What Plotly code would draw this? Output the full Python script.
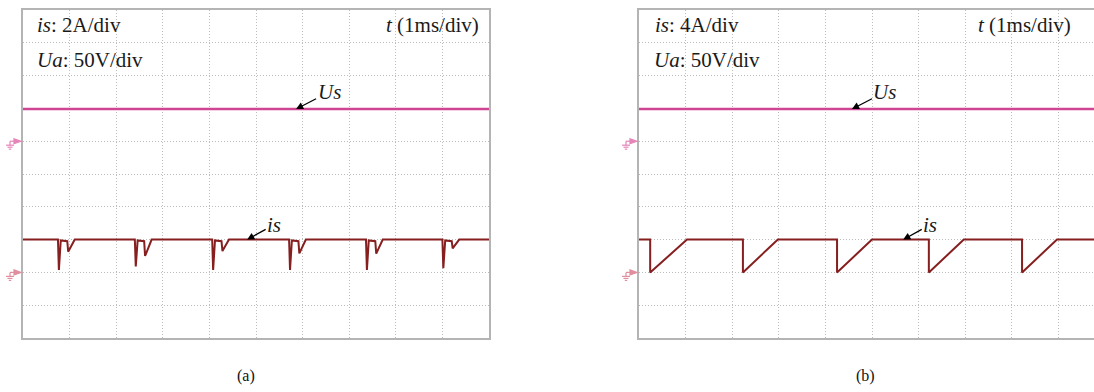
import plotly.graph_objects as go

# ---------------- data ----------------
# panel (a): is 2A/div, Ua 50V/div, t 1ms/div
t_a = [0.00,
       0.75, 0.77, 0.81, 0.95, 0.97, 1.11,
       2.40, 2.42, 2.46, 2.60, 2.62, 2.76,
       4.06, 4.08, 4.12, 4.26, 4.28, 4.42,
       5.71, 5.73, 5.77, 5.91, 5.93, 6.07,
       7.36, 7.38, 7.42, 7.56, 7.58, 7.72,
       9.00, 9.02, 9.06, 9.20, 9.22, 9.36,
       10.00]
i_a = [2.0,
       2.0, 0.15, 1.95, 1.9, 1.26, 2.0,
       2.0, 0.36, 1.95, 1.9, 1.00, 2.0,
       2.0, 0.15, 1.95, 1.9, 1.30, 2.0,
       2.0, 0.15, 1.95, 1.9, 1.16, 2.0,
       2.0, 0.15, 1.95, 1.9, 1.14, 2.0,
       2.0, 0.25, 1.95, 1.9, 1.47, 2.0,
       2.0]
u_t_a = [0.0, 10.0]
u_a = [49.0, 49.0]

# panel (b): is 4A/div, Ua 50V/div, t 1ms/div
t_b = [0.00, 0.24, 0.24, 1.03,
       2.23, 2.23, 2.98,
       4.25, 4.25, 5.00,
       6.22, 6.22, 6.97,
       8.22, 8.22, 8.97,
       10.00]
i_b = [4.0, 4.0, 0.0, 4.0,
       4.0, 0.0, 4.0,
       4.0, 0.0, 4.0,
       4.0, 0.0, 4.0,
       4.0, 0.0, 4.0,
       4.0]
u_t_b = [0.0, 10.0]
u_b = [49.0, 49.0]

labels_a = ["<i>is</i>: 2A/div", "<i>Ua</i>: 50V/div", "<i>t</i> (1ms/div)"]
labels_b = ["<i>is</i>: 4A/div", "<i>Ua</i>: 50V/div", "<i>t</i> (1ms/div)"]
captions = ["(a)", "(b)"]

# axis ranges (value per division x 10 divisions, ground 2 div / 6 div from bottom)
i_range_a = [-4, 16]
i_range_b = [-8, 32]
u_range = [-300, 200]

# ---------------- style ----------------
U_COLOR = "#cf4594"
I_COLOR = "#861f1f"
GRID = "#bdbdbd"
FRAME = "#b4b4b4"
FONT = "Liberation Serif"
W, H = 1094, 392

ytop, ybot = 10, 338
xa0, xa1 = 23, 489
xb0 = 639
div_px = (xa1 - xa0) / 10.0
xb1 = W
xb_range = (xb1 - xb0) / div_px

fig = go.Figure()
fig.add_trace(go.Scatter(x=u_t_a, y=u_a, mode="lines", line=dict(color=U_COLOR, width=2.5),
                         xaxis="x", yaxis="y2", hoverinfo="skip"))
fig.add_trace(go.Scatter(x=t_a, y=i_a, mode="lines", line=dict(color=I_COLOR, width=2),
                         xaxis="x", yaxis="y", hoverinfo="skip"))
fig.add_trace(go.Scatter(x=u_t_b, y=u_b, mode="lines", line=dict(color=U_COLOR, width=2.5),
                         xaxis="x2", yaxis="y4", hoverinfo="skip"))
fig.add_trace(go.Scatter(x=t_b, y=i_b, mode="lines", line=dict(color=I_COLOR, width=2),
                         xaxis="x2", yaxis="y3", hoverinfo="skip"))

ydom = [1 - ybot / H, 1 - ytop / H]
gridax = dict(showgrid=True, gridcolor=GRID, griddash="1px,2px", gridwidth=1,
              zeroline=False, showticklabels=False, ticks="", showline=True,
              linecolor=FRAME, linewidth=1.5)

fig.update_layout(
    width=W, height=H, margin=dict(l=0, r=0, t=0, b=0),
    paper_bgcolor="white", plot_bgcolor="white", showlegend=False,
    xaxis=dict(domain=[xa0 / W, xa1 / W], range=[0, 10], dtick=1, mirror=True, **gridax),
    yaxis=dict(domain=ydom, range=i_range_a, dtick=2, mirror=True, anchor="x", **gridax),
    yaxis2=dict(domain=ydom, range=u_range, overlaying="y", anchor="x",
                showgrid=False, zeroline=False, showticklabels=False, visible=False),
    xaxis2=dict(domain=[xb0 / W, 1.0], range=[0, xb_range], dtick=1, mirror=True,
                anchor="y3", **gridax),
    yaxis3=dict(domain=ydom, range=i_range_b, dtick=4, mirror=False, anchor="x2", **gridax),
    yaxis4=dict(domain=ydom, range=u_range, overlaying="y3", anchor="x2",
                showgrid=False, zeroline=False, showticklabels=False, visible=False),
)

tfont = dict(family=FONT, size=21, color="#1a1a1a")
ann = []
for lab, xx, yy, anc, xr, yr in [
    (labels_a[0], 12 / 466, (ybot - 25) / 328, "left", "x domain", "y domain"),
    (labels_a[1], 12 / 466, (ybot - 60) / 328, "left", "x domain", "y domain"),
    (labels_a[2], (481 - xa0) / 466, (ybot - 25) / 328, "right", "x domain", "y domain"),
    (labels_b[0], 14 / (xb1 - xb0), (ybot - 25) / 328, "left", "x2 domain", "y3 domain"),
    (labels_b[1], 13 / (xb1 - xb0), (ybot - 60) / 328, "left", "x2 domain", "y3 domain"),
    (labels_b[2], (976 - xb0) / (xb1 - xb0), (ybot - 25) / 328, "left", "x2 domain", "y3 domain"),
]:
    ann.append(dict(text=lab, x=xx, y=yy, xref=xr, yref=yr, xanchor=anc, yanchor="middle",
                    showarrow=False, font=tfont))

arrow = dict(showarrow=True, arrowhead=2, arrowsize=1.1, arrowwidth=1.3, arrowcolor="black",
             font=dict(family=FONT, size=21, color="#1a1a1a"))
ann.append(dict(text="<i>Us</i>", x=5.86, y=u_a[0], xref="x", yref="y2", ax=33, ay=-17, **arrow))
ann.append(dict(text="<i>is</i>", x=4.81, y=i_a[0], xref="x", yref="y", ax=27, ay=-15, **arrow))
ann.append(dict(text="<i>Us</i>", x=4.57, y=u_b[0], xref="x2", yref="y4", ax=33, ay=-17, **arrow))
ann.append(dict(text="<i>is</i>", x=5.67, y=i_b[0], xref="x2", yref="y3", ax=27, ay=-15, **arrow))

for cap, cx in zip(captions, [246 / W, 865 / W]):
    ann.append(dict(text=cap, x=cx, y=1 - 376 / H, xref="paper", yref="paper",
                    xanchor="center", yanchor="middle",
                    showarrow=False, font=dict(family=FONT, size=16, color="#111")))
fig.update_layout(annotations=ann)


# ground markers (decorations at the 0 level of each channel, left of the frame)
def paper_y(v, rng):
    return ydom[0] + (v - rng[0]) / (rng[1] - rng[0]) * (ydom[1] - ydom[0])


def ground(xpaper, ypaper, col):
    base = dict(xref="paper", yref="paper", xsizemode="pixel", ysizemode="pixel",
                xanchor=xpaper, yanchor=ypaper, line=dict(color=col, width=1.2))
    return [
        dict(type="path", path="M -9,2.5 L -2,0 L -9,-2.5 Z", fillcolor=col, **base),
        dict(type="line", x0=-13, x1=-9, y0=0, y1=0, **base),
        dict(type="line", x0=-13, x1=-13, y0=0, y1=-4, **base),
        dict(type="line", x0=-17, x1=-9, y0=-4, y1=-4, **base),
        dict(type="line", x0=-15.5, x1=-10.5, y0=-6, y1=-6, **base),
        dict(type="line", x0=-14.2, x1=-11.8, y0=-8, y1=-8, **base),
    ]


shapes = []
shapes += ground(xa0 / W, paper_y(0, u_range), "#e585b8")
shapes += ground(xa0 / W, paper_y(0, i_range_a), "#e08f9f")
shapes += ground(xb0 / W, paper_y(0, u_range), "#e585b8")
shapes += ground(xb0 / W, paper_y(0, i_range_b), "#e08f9f")
fig.update_layout(shapes=shapes)

fig.write_html("out.html")
